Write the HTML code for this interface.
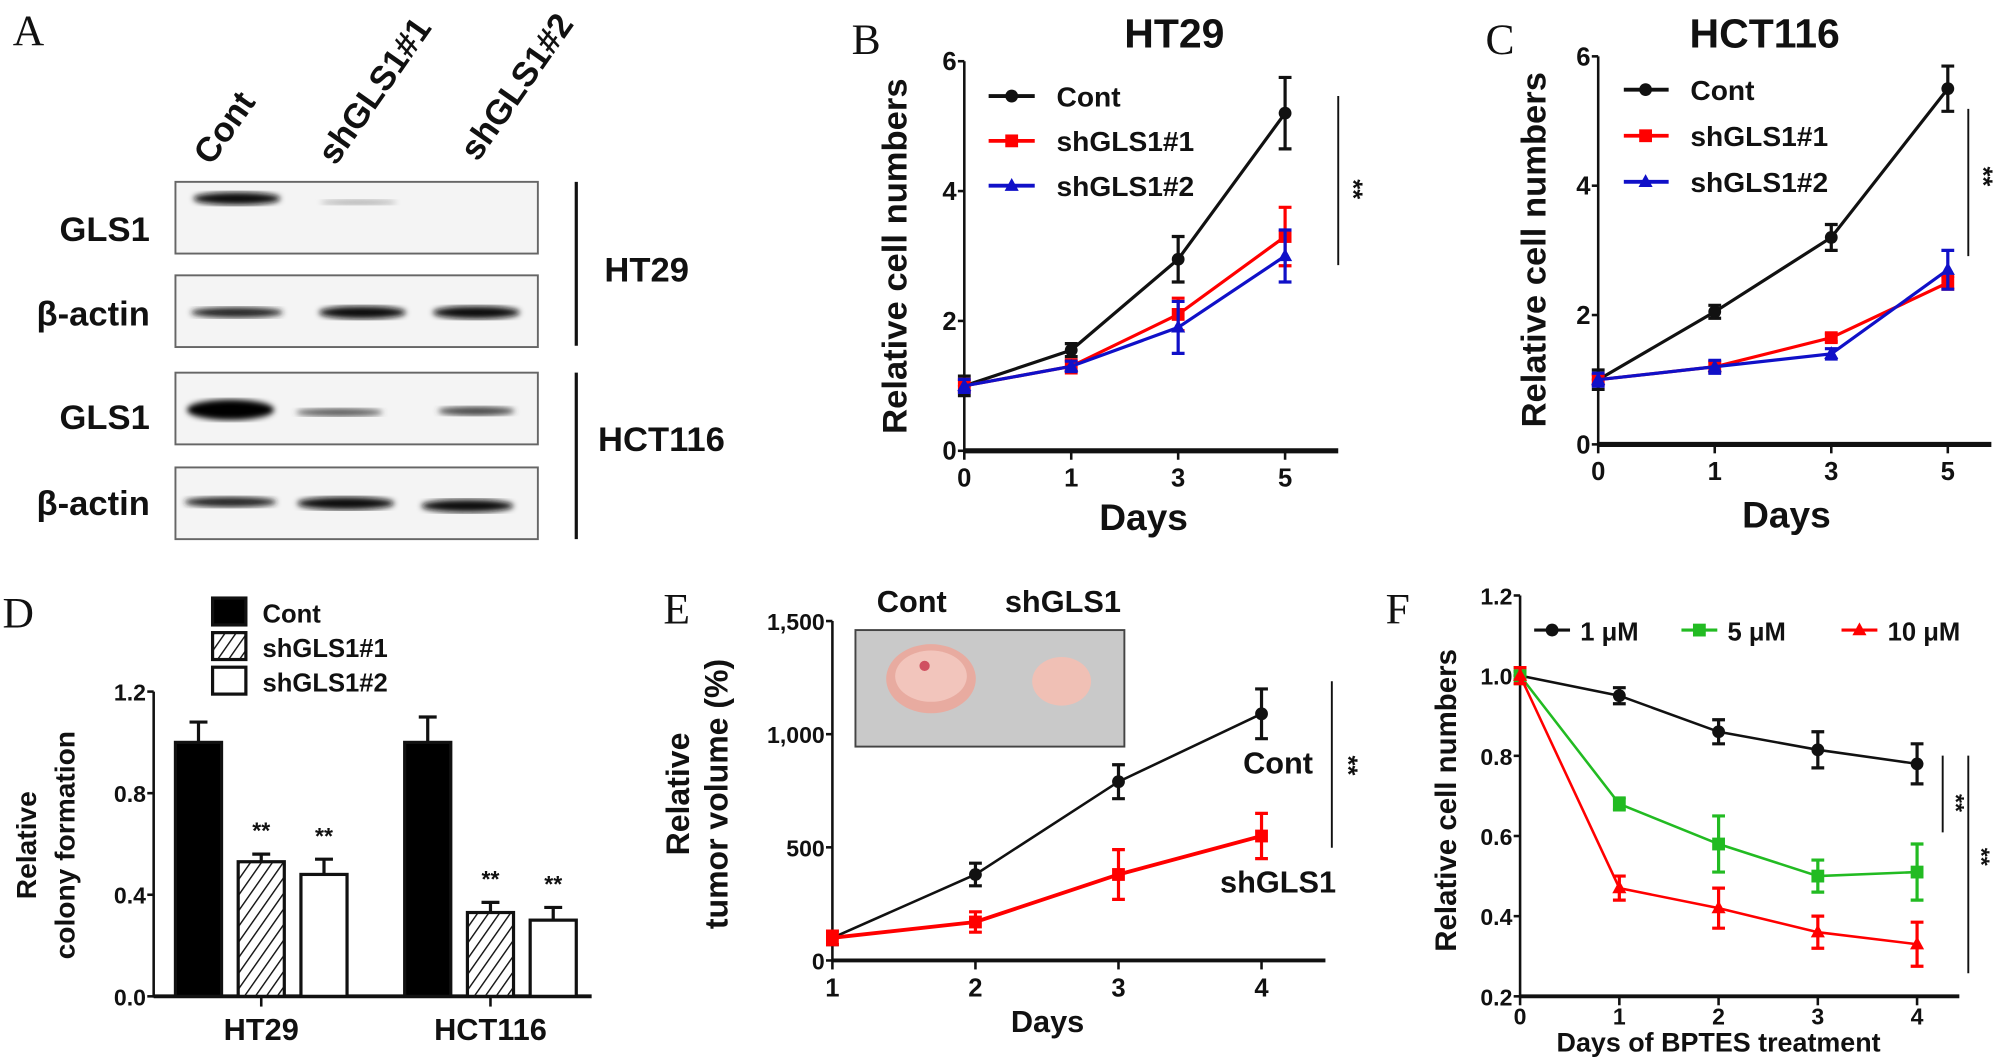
<!DOCTYPE html>
<html><head><meta charset="utf-8"><style>
html,body{margin:0;padding:0;background:#fff;width:2008px;height:1061px;overflow:hidden}
svg{display:block}
text{font-family:"Liberation Sans",sans-serif;font-weight:bold;fill:#111}
.ser{font-family:"Liberation Serif",serif;font-weight:normal}
</style></head><body>
<svg id="fig" width="2008" height="1061" viewBox="0 0 1568 828.5" preserveAspectRatio="none" xmlns="http://www.w3.org/2000/svg">
<defs>
<pattern id="hatch" patternUnits="userSpaceOnUse" width="7" height="7" patternTransform="rotate(35)"><rect width="7" height="7" fill="#fff"/><line x1="0" y1="0" x2="0" y2="7" stroke="#111" stroke-width="2.2"/></pattern>
<filter id="blur"><feGaussianBlur stdDeviation="2.2"/></filter>
</defs>
<g id="panelA">
<text class="ser" x="10" y="35" font-size="34">A</text>
<text x="165" y="130" font-size="27" transform="rotate(-55 165 130)">Cont</text>
<text x="262" y="130" font-size="27" transform="rotate(-55 262 130)">shGLS1#1</text>
<text x="373" y="127" font-size="27" transform="rotate(-55 373 127)">shGLS1#2</text>
<g><rect x="137" y="142" width="283" height="56" fill="#f4f4f4" stroke="#666" stroke-width="1.5"/>
<ellipse cx="185" cy="155" rx="34" ry="5" fill="#111" filter="url(#blur)"/><ellipse cx="280" cy="158" rx="30" ry="2" fill="#aaa" filter="url(#blur)"/></g>
<g><rect x="137" y="215" width="283" height="56" fill="#f4f4f4" stroke="#666" stroke-width="1.5"/>
<ellipse cx="185" cy="244" rx="36" ry="4" fill="#222" filter="url(#blur)"/><ellipse cx="283" cy="244" rx="34" ry="5" fill="#111" filter="url(#blur)"/><ellipse cx="372" cy="244" rx="34" ry="5" fill="#111" filter="url(#blur)"/></g>
<g><rect x="137" y="291" width="283" height="56" fill="#f4f4f4" stroke="#666" stroke-width="1.5"/>
<ellipse cx="180" cy="320" rx="34" ry="8" fill="#000" filter="url(#blur)"/><ellipse cx="265" cy="322" rx="34" ry="3" fill="#555" filter="url(#blur)"/><ellipse cx="372" cy="321" rx="30" ry="3.5" fill="#444" filter="url(#blur)"/></g>
<g><rect x="137" y="365" width="283" height="56" fill="#f4f4f4" stroke="#666" stroke-width="1.5"/>
<ellipse cx="180" cy="392" rx="36" ry="4" fill="#222" filter="url(#blur)"/><ellipse cx="270" cy="393" rx="38" ry="5" fill="#111" filter="url(#blur)"/><ellipse cx="365" cy="395" rx="36" ry="5" fill="#111" filter="url(#blur)"/></g>
<text x="117" y="188" font-size="27" text-anchor="end">GLS1</text>
<text x="117" y="254" font-size="27" text-anchor="end">β-actin</text>
<text x="117" y="335" font-size="27" text-anchor="end">GLS1</text>
<text x="117" y="402" font-size="27" text-anchor="end">β-actin</text>
<line x1="450" y1="142" x2="450" y2="270" stroke="#111" stroke-width="2.5"/>
<line x1="450" y1="291" x2="450" y2="421" stroke="#111" stroke-width="2.5"/>
<text x="472" y="220" font-size="27">HT29</text>
<text x="467" y="352" font-size="27">HCT116</text>
</g>
<g id="dyn"></g>
</svg>
<script>
// Panel B data
const bDays = ["0","1","3","5"];
const bCont = [1.0, 1.55, 2.95, 5.2];
const bContErr = [0.15, 0.1, 0.35, 0.55];
const bSh1 = [1.0, 1.3, 2.1, 3.3];
const bSh1Err = [0.1, 0.1, 0.25, 0.45];
const bSh2 = [1.0, 1.3, 1.9, 3.0];
const bSh2Err = [0.1, 0.08, 0.4, 0.4];
const bYTicks = [0, 2, 4, 6];
// Panel C data
const cDays = ["0","1","3","5"];
const cCont = [1.0, 2.05, 3.2, 5.5];
const cContErr = [0.15, 0.1, 0.2, 0.35];
const cSh1 = [1.0, 1.2, 1.65, 2.5];
const cSh1Err = [0.08, 0.08, 0.06, 0.1];
const cSh2 = [1.0, 1.2, 1.4, 2.7];
const cSh2Err = [0.1, 0.1, 0.08, 0.3];
const cYTicks = [0, 2, 4, 6];
// Panel D data
const dGroups = ["HT29", "HCT116"];
const dCont = [1.0, 1.0];
const dContErr = [0.08, 0.1];
const dSh1 = [0.53, 0.33];
const dSh1Err = [0.03, 0.04];
const dSh2 = [0.48, 0.30];
const dSh2Err = [0.06, 0.05];
const dYTicks = ["0.0", "0.4", "0.8", "1.2"];
// Panel E data
const eDays = ["1","2","3","4"];
const eCont = [100, 380, 790, 1090];
const eContErr = [30, 50, 75, 110];
const eSh = [100, 170, 380, 550];
const eShErr = [30, 45, 110, 100];
const eYTicks = [0, 500, 1000, 1500];
const eYLabels = ["0", "500", "1,000", "1,500"];
// Panel F data
const fDays = ["0","1","2","3","4"];
const f1 = [1.0, 0.95, 0.86, 0.815, 0.78];
const f1Err = [0.01, 0.02, 0.03, 0.045, 0.05];
const f5 = [1.0, 0.68, 0.58, 0.50, 0.51];
const f5Err = [0.02, 0.015, 0.07, 0.04, 0.07];
const f10 = [1.0, 0.47, 0.42, 0.36, 0.33];
const f10Err = [0.02, 0.03, 0.05, 0.04, 0.055];
const fYTicks = ["0.2","0.4","0.6","0.8","1.0","1.2"];

const NS = "http://www.w3.org/2000/svg";
const root = document.getElementById('dyn');
function mk(tag, attrs, parent, txt){const e=document.createElementNS(NS,tag);for(const k in attrs)e.setAttribute(k,attrs[k]);if(txt!==undefined)e.textContent=txt;(parent||root).appendChild(e);return e;}
function grp(name){const g=mk('g',{});


return g;}
function marker(g, shape, x, y, c, s){
  if(shape==='circle') mk('circle',{cx:x,cy:y,r:s,fill:c},g);
  else if(shape==='square') mk('rect',{x:x-s,y:y-s,width:2*s,height:2*s,fill:c},g);
  else mk('polygon',{points:`${x},${y-s*1.2} ${x-s*1.1},${y+s*0.8} ${x+s*1.1},${y+s*0.8}`,fill:c},g);
}
function lineSeries(name, xs, vals, errs, xf, yf, color, shape, lw){
  const g = grp(name);
  const pts = vals.map((v,i)=>xf(i)+','+yf(v)).join(' ');
  mk('polyline',{points:pts,fill:'none',stroke:color,'stroke-width':lw},g);
  vals.forEach((v,i)=>{
    const x=xf(i), y1=yf(v+errs[i]), y2=yf(v-errs[i]);
    const eb=mk('path',{d:`M${x},${y1}V${y2}M${x-5},${y1}H${x+5}M${x-5},${y2}H${x+5}`,stroke:color,'stroke-width':2.5,fill:'none'},g);
    
    
    marker(g, shape, x, yf(v), color, 5);
  });
  return g;
}
function yAxis(name, x, y0, y1, ticks, labels, yf, fs){
  const g=grp(name);
  mk('line',{x1:x,y1:yf(ticks[0])+1,x2:x,y2:yf(ticks[ticks.length-1]),stroke:'#111','stroke-width':2},g);
  ticks.forEach((t,i)=>{const y=yf(t);mk('line',{x1:x-5,y1:y,x2:x,y2:y,stroke:'#111','stroke-width':2},g);
    mk('text',{x:x-6,y:y+7,'font-size':fs,'text-anchor':'end'},g,labels[i]);});
  return g;
}
function xAxis(name, x0, x1, y, labels, xf, fs, lw, off){
  const g=grp(name);
  mk('line',{x1:x0,y1:y,x2:x1,y2:y,stroke:'#111','stroke-width':lw},g);
  labels.forEach((l,i)=>{const x=xf(i);mk('line',{x1:x,y1:y,x2:x,y2:y+7,stroke:'#111','stroke-width':2},g);
    mk('text',{x:x,y:y+(off||28),'font-size':fs,'text-anchor':'middle'},g,l);});
  return g;
}
function txt(name, x, y, s, fs, extra){const t=mk('text',Object.assign({x:x,y:y,'font-size':fs},extra||{}),root,s);


return t;}

// ---------- Panel B ----------
(function(){
  const xf=i=>753+83.5*i, yf=v=>352-v*50.7;
  txt('panel-label-b',665,42,'B',34,{class:'ser'});
  txt('title-ht29',917,37,'HT29',32,{'text-anchor':'middle'});
  yAxis('b-y-axis',753,352,48,bYTicks,bYTicks.map(String),yf,20);
  xAxis('b-x-axis',753,1045,352,bDays,xf,20,4);
  txt('b-y-axis-title',708,200,'Relative cell numbers',27,{'text-anchor':'middle',transform:'rotate(-90 708 200)'});
  txt('b-x-axis-title',893,414,'Days',29,{'text-anchor':'middle'});
  lineSeries('b-series-cont',bDays,bCont,bContErr,xf,yf,'#111','circle',2.5);
  lineSeries('b-series-shgls1-1',bDays,bSh1,bSh1Err,xf,yf,'#f00','square',2.5);
  lineSeries('b-series-shgls1-2',bDays,bSh2,bSh2Err,xf,yf,'#1010c8','tri',2.5);
  const lg=grp('b-legend');
  [['Cont','#111','circle'],['shGLS1#1','#f00','square'],['shGLS1#2','#1010c8','tri']].forEach((e,i)=>{
    const y=75+35*i;mk('line',{x1:772,y1:y,x2:808,y2:y,stroke:e[1],'stroke-width':3},lg);marker(lg,e[2],790,y,e[1],5);
    mk('text',{x:825,y:y+8,'font-size':22},lg,e[0]);});
  mk('line',{x1:1045,y1:75,x2:1045,y2:207,stroke:'#111','stroke-width':1.5});
  txt('b-significance',1050,140,'**',20,{transform:'rotate(90 1050 140)'});
})();
// ---------- Panel C ----------
(function(){
  const xf=i=>1248+91*i, yf=v=>347-v*50.5;
  txt('panel-label-c',1160,42,'C',34,{class:'ser'});
  txt('title-hct116',1378,37,'HCT116',32,{'text-anchor':'middle'});
  yAxis('c-y-axis',1248,347,44,cYTicks,cYTicks.map(String),yf,20);
  xAxis('c-x-axis',1248,1555,347,cDays,xf,20,4);
  txt('c-y-axis-title',1207,195,'Relative cell numbers',27,{'text-anchor':'middle',transform:'rotate(-90 1207 195)'});
  txt('c-x-axis-title',1395,412,'Days',29,{'text-anchor':'middle'});
  lineSeries('c-series-cont',cDays,cCont,cContErr,xf,yf,'#111','circle',2.5);
  lineSeries('c-series-shgls1-1',cDays,cSh1,cSh1Err,xf,yf,'#f00','square',2.5);
  lineSeries('c-series-shgls1-2',cDays,cSh2,cSh2Err,xf,yf,'#1010c8','tri',2.5);
  const lg=grp('c-legend');
  [['Cont','#111','circle'],['shGLS1#1','#f00','square'],['shGLS1#2','#1010c8','tri']].forEach((e,i)=>{
    const y=70+36*i;mk('line',{x1:1268,y1:y,x2:1303,y2:y,stroke:e[1],'stroke-width':3},lg);marker(lg,e[2],1285,y,e[1],5);
    mk('text',{x:1320,y:y+8,'font-size':22},lg,e[0]);});
  mk('line',{x1:1537,y1:85,x2:1537,y2:200,stroke:'#111','stroke-width':1.5});
  txt('c-significance',1542,130,'**',20,{transform:'rotate(90 1542 130)'});
})();
// ---------- Panel D ----------
(function(){
  const y0=778, yf=v=>y0-v*198.3;
  txt('panel-label-d',2,490,'D',34,{class:'ser'});
  yAxis('d-y-axis',120,778,540,[0,0.4,0.8,1.2],dYTicks,yf,18);
  const gx=[137,316], bw=36, offs=[0,49,98];
  const ax=grp('d-x-axis');
  mk('line',{x1:120,y1:y0,x2:462,y2:y0,stroke:'#111','stroke-width':3},ax);
  dGroups.forEach((n,i)=>{const cx=gx[i]+offs[1]+bw/2;mk('line',{x1:cx,y1:y0,x2:cx,y2:y0+8,stroke:'#111','stroke-width':2},ax);
    mk('text',{x:cx,y:812,'font-size':24,'text-anchor':'middle'},ax,n);});
  const series=[[dCont,dContErr,'#000','cont'],[dSh1,dSh1Err,'url(#hatch)','shgls1-1'],[dSh2,dSh2Err,'#fff','shgls1-2']];
  series.forEach((s,si)=>{
    const g=grp('d-bars-'+s[3]);
    dGroups.forEach((n,gi)=>{
      const x=gx[gi]+offs[si], v=s[0][gi], e=s[1][gi], cx=x+bw/2;
      mk('path',{d:`M${cx},${yf(v)}V${yf(v+e)}M${cx-7},${yf(v+e)}H${cx+7}`,stroke:'#111','stroke-width':2.5,fill:'none'},g);
      const r=mk('rect',{x:x,y:yf(v),width:bw,height:y0-yf(v),fill:s[2],stroke:'#111','stroke-width':2.5},g);
      
      
      if(si>0) mk('text',{x:cx,y:yf(v+e)-12,'font-size':18,'font-weight':'normal','text-anchor':'middle'},g,'**');
    });
  });
  const lg=grp('d-legend');
  [['#000','Cont'],['url(#hatch)','shGLS1#1'],['#fff','shGLS1#2']].forEach((e,i)=>{
    const y=467+27*i;mk('rect',{x:166,y:y,width:26,height:21,fill:e[0],stroke:'#111','stroke-width':2.5},lg);
    mk('text',{x:205,y:y+19,'font-size':20},lg,e[1]);});
  txt('d-y-axis-title-1',28,660,'Relative',22,{'text-anchor':'middle',transform:'rotate(-90 28 660)'});
  txt('d-y-axis-title-2',58,660,'colony formation',22,{'text-anchor':'middle',transform:'rotate(-90 58 660)'});
})();
// ---------- Panel E ----------
(function(){
  const xf=i=>650+111.7*i, yf=v=>750-v*0.1767;
  txt('panel-label-e',518,487,'E',34,{class:'ser'});
  yAxis('e-y-axis',650,750,485,eYTicks,eYLabels,yf,18);
  xAxis('e-x-axis',650,1035,750,eDays,xf,20,3);
  txt('e-y-axis-title-1',538,620,'Relative',25,{'text-anchor':'middle',transform:'rotate(-90 538 620)'});
  txt('e-y-axis-title-2',568,620,'tumor volume (%)',25,{'text-anchor':'middle',transform:'rotate(-90 568 620)'});
  txt('e-x-axis-title',818,806,'Days',24,{'text-anchor':'middle'});
  const ph=grp('e-tumor-photo');
  mk('rect',{x:668,y:492,width:210,height:91,fill:'#c9c9c9',stroke:'#444','stroke-width':1.5},ph);
  mk('ellipse',{cx:727,cy:530,rx:35,ry:27,fill:'#e8aba0'},ph);
  mk('ellipse',{cx:727,cy:528,rx:28,ry:20,fill:'#f2c5bc'},ph);
  mk('circle',{cx:722,cy:520,r:4,fill:'#d05060'},ph);
  mk('ellipse',{cx:829,cy:532,rx:23,ry:19,fill:'#f0c0b5'},ph);
  txt('e-photo-label-cont',712,478,'Cont',24,{'text-anchor':'middle'});
  txt('e-photo-label-shgls1',830,478,'shGLS1',24,{'text-anchor':'middle'});
  lineSeries('e-series-cont',eDays,eCont,eContErr,xf,yf,'#111','circle',2);
  lineSeries('e-series-shgls1',eDays,eSh,eShErr,xf,yf,'#f00','square',3);
  txt('e-label-cont',998,604,'Cont',24,{'text-anchor':'middle'});
  txt('e-label-shgls1',998,697,'shGLS1',24,{'text-anchor':'middle'});
  mk('line',{x1:1040,y1:532,x2:1040,y2:662,stroke:'#111','stroke-width':1.5});
  txt('e-significance',1046,590,'**',20,{transform:'rotate(90 1046 590)'});
})();
// ---------- Panel F ----------
(function(){
  const xf=i=>1187+77.5*i, yf=v=>778-(v-0.2)*313;
  txt('panel-label-f',1082,487,'F',34,{class:'ser'});
  yAxis('f-y-axis',1187,778,465,fYTicks.map(Number),fYTicks,yf,18);
  xAxis('f-x-axis',1187,1530,778,fDays,xf,18,3,22);
  txt('f-y-axis-title',1137,625,'Relative cell numbers',23,{'text-anchor':'middle',transform:'rotate(-90 1137 625)'});
  txt('f-x-axis-title',1342,821,'Days of BPTES treatment',21,{'text-anchor':'middle'});
  lineSeries('f-series-1um',fDays,f1,f1Err,xf,yf,'#111','circle',2);
  lineSeries('f-series-5um',fDays,f5,f5Err,xf,yf,'#22bb22','square',2);
  lineSeries('f-series-10um',fDays,f10,f10Err,xf,yf,'#f00','tri',2);
  const lg=grp('f-legend');
  [['1 μM','#111','circle',1198],['5 μM','#22bb22','square',1313],['10 μM','#f00','tri',1438]].forEach(e=>{
    const y=492;mk('line',{x1:e[3],y1:y,x2:e[3]+28,y2:y,stroke:e[1],'stroke-width':2.5},lg);marker(lg,e[2],e[3]+14,y,e[1],5);
    mk('text',{x:e[3]+36,y:y+8,'font-size':20},lg,e[0]);});
  mk('line',{x1:1517,y1:590,x2:1517,y2:650,stroke:'#111','stroke-width':1.5});
  mk('line',{x1:1537,y1:590,x2:1537,y2:760,stroke:'#111','stroke-width':1.5});
  txt('f-significance-5um',1521,620,'**',18,{transform:'rotate(90 1521 620)'});
  txt('f-significance-10um',1541,662,'**',18,{transform:'rotate(90 1541 662)'});
})();
</script>
</body></html>
